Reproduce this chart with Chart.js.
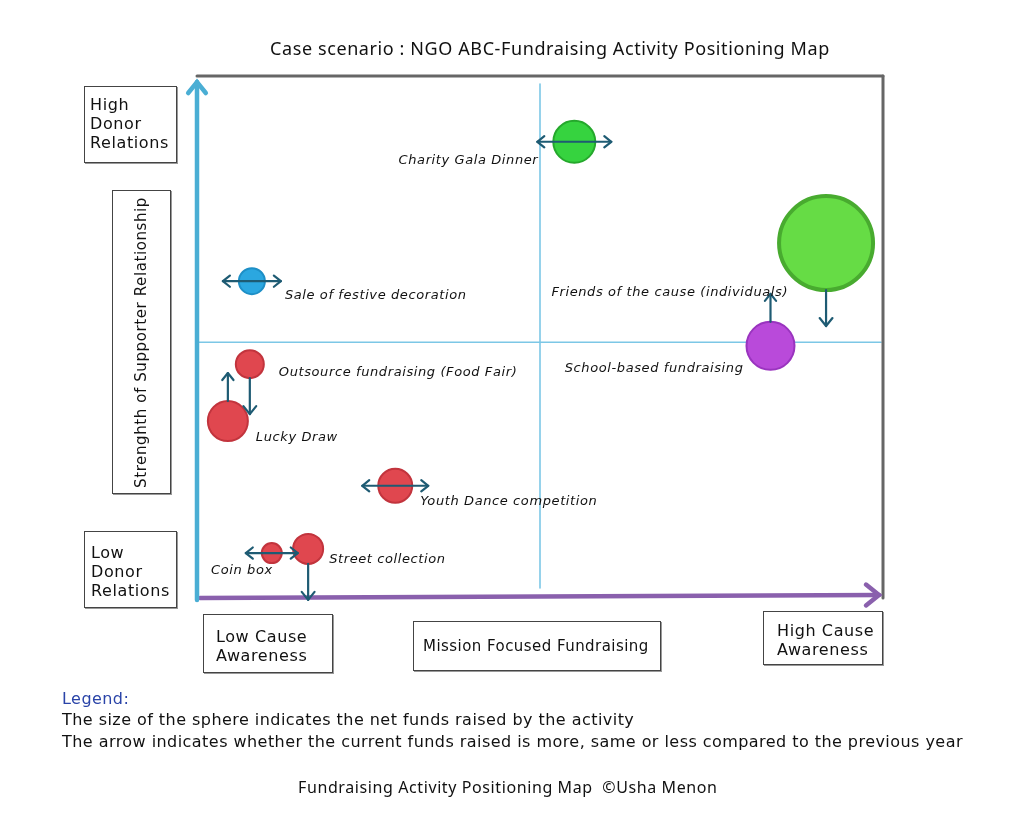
<!DOCTYPE html>
<html>
<head>
<meta charset="utf-8">
<title>Fundraising Activity Positioning Map</title>
<script src="https://cdn.jsdelivr.net/npm/chart.js@4.4.1/dist/chart.umd.min.js"></script>
<style>
    body { margin: 0; background: #fff; }
    #wrap { position: relative; width: 1024px; height: 830px; overflow: hidden; }
    #map { position: absolute; left: 0; top: 0; }
    .txt { position: absolute; font-family: "DejaVu Sans", sans-serif; color: #111; white-space: nowrap; }
    .box { position: absolute; border: 1px solid #444; box-shadow: 1px 1px 0 #999; background: #fff;
           font-family: "DejaVu Sans", sans-serif; font-size: 16px; line-height: 19px; color: #111;
           letter-spacing: 0.6px; box-sizing: border-box; white-space: nowrap; }
    .legend { font-size: 16px; letter-spacing: 0.45px; }
    .title { font-family: "Noto Sans", sans-serif; font-size: 18px; letter-spacing: 0.6px; }
</style>
</head>
<body>
<div id="wrap">
    <canvas id="map" width="1024" height="830"></canvas>

    <div class="txt title" style="left:270px;top:36px;">Case scenario : NGO ABC-Fundraising Activity Positioning Map</div>

    <div class="box" style="left:84px;top:86px;width:93px;height:77px;padding:8px 0 0 5px;">High<br>Donor<br>Relations</div>
    <div class="box" style="left:112px;top:190px;width:59px;height:304px;display:flex;align-items:center;justify-content:center;">
        <span style="writing-mode:vertical-rl;transform:rotate(180deg);font-size:15px;">Strenghth of Supporter Relationship</span>
    </div>
    <div class="box" style="left:84px;top:531px;width:93px;height:77px;padding:11px 0 0 6px;">Low<br>Donor<br>Relations</div>

    <div class="box" style="left:203px;top:614px;width:130px;height:59px;padding:12px 0 0 12px;">Low Cause<br>Awareness</div>
    <div class="box" style="left:413px;top:621px;width:248px;height:50px;padding:15px 0 0 9px;font-size:15px;letter-spacing:0.45px;">Mission Focused Fundraising</div>
    <div class="box" style="left:763px;top:611px;width:120px;height:54px;padding:9px 0 0 13px;">High Cause<br>Awareness</div>

    <div class="txt legend" style="left:62px;top:689px;color:#2a44a8;">Legend:</div>
    <div class="txt legend" style="left:62px;top:710px;">The size of the sphere indicates the net funds raised by the activity</div>
    <div class="txt legend" style="left:62px;top:732px;">The arrow indicates whether the current funds raised is more, same or less compared to the previous year</div>

    <div class="txt title" style="left:298px;top:776px;font-size:16px;">Fundraising Activity Positioning Map &nbsp;©Usha Menon</div>
</div>

<script>
// Activities
const activities = [
    "Charity Gala Dinner",
    "Friends of the cause (individuals)",
    "School-based fundraising",
    "Sale of festive decoration",
    "Outsource fundraising (Food Fair)",
    "Lucky Draw",
    "Youth Dance competition",
    "Street collection",
    "Coin box"
];
// x: cause awareness (0-100), y: donor relations (0-100)
const causeAwareness = [55, 91.7, 83.6, 8, 7.7, 4.5, 28.9, 16.2, 10.9];
const donorRelations = [87.4, 68, 48.3, 60.7, 44.8, 33.9, 21.5, 9.4, 8.6];
// net funds raised (sphere size)
const netFunds = [21, 47, 24, 13, 14, 20, 17, 15, 10];
// trend vs previous year
const trend = ["same", "down", "up", "same", "down", "up", "same", "down", "same"];
// quadrant dividers
const dividers = { x: 50, y: 49 };

// Styles
const fills = ["#36d33f", "#66dc45", "#b94ada", "#2ba7e0", "#e0474f", "#e0474f", "#e0474f", "#e0474f", "#e0474f"];
const borders = ["#25a82c", "#48ab2f", "#9a34bf", "#1e8fc6", "#c2343d", "#c2343d", "#c2343d", "#c2343d", "#c2343d"];
const arrowColor = "#1e5b73";
// label placement: [align, dx, dy] from sphere centre
const labelPlace = [
    ["right", -36, 19], ["right", -38, 50], ["right", -27, 23],
    ["left", 33, 14], ["left", 29, 8], ["left", 28, 17],
    ["left", 25, 16], ["left", 21, 11], ["right", 1, 18]
];

function line(ctx, x1, y1, x2, y2) {
    ctx.beginPath();
    ctx.moveTo(x1, y1);
    ctx.lineTo(x2, y2);
    ctx.stroke();
}

function head(ctx, x, y, dx, dy, size) {
    // open chevron pointing along (dx, dy)
    const px = -dy, py = dx;
    ctx.beginPath();
    ctx.moveTo(x - dx * size + px * size * 0.8, y - dy * size + py * size * 0.8);
    ctx.lineTo(x, y);
    ctx.lineTo(x - dx * size - px * size * 0.8, y - dy * size - py * size * 0.8);
    ctx.stroke();
}

// Frame, axes and quadrant lines
const framePlugin = {
    id: "frame",
    beforeDatasetsDraw(chart) {
        const { ctx, chartArea: a, scales } = chart;
        ctx.save();
        ctx.lineCap = "round";

        // quadrant lines
        const qx = scales.x.getPixelForValue(dividers.x);
        const qy = scales.y.getPixelForValue(dividers.y);
        ctx.strokeStyle = "#7cc7e6";
        ctx.lineWidth = 1.6;
        line(ctx, qx, a.top + 8, qx, a.bottom - 10);
        line(ctx, a.left, qy, a.right - 2, qy);

        // top and right border
        ctx.strokeStyle = "#666";
        ctx.lineWidth = 3;
        line(ctx, a.left, a.top, a.right, a.top);
        line(ctx, a.right, a.top, a.right, a.bottom);

        // x axis
        ctx.strokeStyle = "#8a60ad";
        ctx.lineWidth = 4.5;
        line(ctx, a.left + 3, a.bottom, a.right - 4, a.bottom - 3);
        head(ctx, a.right - 4, a.bottom - 3, 1, 0, 13);

        // y axis
        ctx.strokeStyle = "#4aaed4";
        ctx.lineWidth = 4.5;
        line(ctx, a.left, a.bottom + 2, a.left, a.top + 6);
        head(ctx, a.left, a.top + 6, 0, -1, 11);
        ctx.restore();
    },
    afterDatasetsDraw(chart) {
        const { ctx } = chart;
        const meta = chart.getDatasetMeta(0);
        ctx.save();
        ctx.strokeStyle = arrowColor;
        ctx.lineWidth = 2.2;
        ctx.lineCap = "round";
        ctx.lineJoin = "round";

        meta.data.forEach((pt, i) => {
            const r = netFunds[i];
            const { x, y } = pt;
            if (trend[i] === "same") {
                const h = r + 16;
                line(ctx, x - h, y, x + h, y);
                head(ctx, x + h, y, 1, 0, 7);
                head(ctx, x - h, y, -1, 0, 7);
            } else if (trend[i] === "up") {
                line(ctx, x, y - r, x, y - r - 28);
                head(ctx, x, y - r - 28, 0, -1, 7);
            } else {
                line(ctx, x, y + r, x, y + r + 36);
                head(ctx, x, y + r + 36, 0, 1, 8);
            }
        });

        // activity labels
        ctx.fillStyle = "#111";
        ctx.font = "italic 13px 'DejaVu Sans'";
        ctx.letterSpacing = "0.6px";
        ctx.textBaseline = "middle";
        meta.data.forEach((pt, i) => {
            const [align, dx, dy] = labelPlace[i];
            ctx.textAlign = align;
            ctx.fillText(activities[i], pt.x + dx, pt.y + dy);
        });
        ctx.restore();
    }
};

new Chart(document.getElementById("map"), {
    type: "bubble",
    data: {
        labels: activities,
        datasets: [{
            data: activities.map((a, i) => ({ x: causeAwareness[i], y: donorRelations[i], r: netFunds[i] })),
            backgroundColor: fills,
            borderColor: borders,
            borderWidth: ctx => ctx.dataIndex === 1 ? 4 : 2
        }]
    },
    options: {
        responsive: false,
        animation: false,
        layout: {
            padding: { left: 197, right: 141, top: 76, bottom: 232 }
        },
        plugins: {
            legend: { display: false },
            tooltip: { enabled: false }
        },
        scales: {
            x: { display: false, min: 0, max: 100 },
            y: { display: false, min: 0, max: 100 }
        }
    },
    plugins: [framePlugin]
});
</script>
</body>
</html>
